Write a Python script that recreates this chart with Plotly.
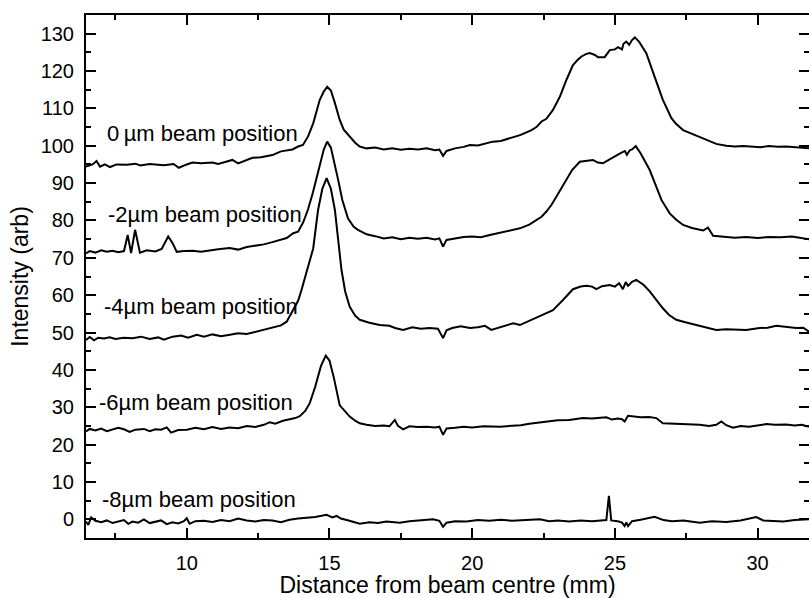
import plotly.graph_objects as go

# ---------------- data ----------------
x_0um = [6.47, 6.7, 6.84, 6.96, 7.13, 7.31, 7.54, 7.9, 8.2, 8.37, 8.7, 8.95, 9.2, 9.54, 9.72, 10.0, 10.2, 10.5,
         10.9, 11.1, 11.35, 11.6, 11.8, 12.05, 12.3, 12.6, 13.0, 13.3, 13.7, 13.9, 14.07, 14.25, 14.43, 14.66, 14.8,
         14.92, 15.05, 15.19, 15.36, 15.5, 15.71, 15.9, 16.06, 16.3, 16.6, 16.9, 17.2, 17.5, 17.8, 18.1, 18.4, 18.7,
         18.85, 18.98, 19.1, 19.4, 19.7, 19.92, 20.2, 20.45, 20.72, 21.0, 21.2, 21.42, 21.7, 22.08, 22.25, 22.43,
         22.6, 22.83, 23.07, 23.3, 23.53, 23.7, 23.83, 24.0, 24.12, 24.3, 24.41, 24.64, 24.75, 24.82, 25.0, 25.11,
         25.25, 25.3, 25.4, 25.5, 25.6, 25.7, 25.85, 26.1, 26.39, 26.68, 26.98, 27.15, 27.39, 27.7, 28.09, 28.3,
         28.55, 28.9, 29.2, 29.5, 29.83, 30.1, 30.4, 30.7, 31.0, 31.3, 31.6, 31.8]
y_0um = [94.4, 95.0, 95.9, 94.4, 95.0, 94.3, 95.0, 94.9, 95.2, 94.7, 95.1, 95.0, 94.8, 95.1, 94.1, 95.0, 95.5, 95.3,
         95.5, 95.1, 95.6, 96.2, 95.3, 96.0, 96.8, 96.9, 97.5, 98.5, 99.0, 99.8, 100.2, 102.5, 106.0, 112.3, 114.5,
         115.8, 114.8, 111.4, 106.9, 104.3, 102.4, 100.8, 99.8, 99.3, 99.5, 99.0, 99.3, 98.9, 99.2, 99.0, 99.3, 98.8,
         99.0, 97.3, 98.6, 99.3, 99.7, 100.2, 100.1, 100.6, 101.1, 101.3, 101.8, 102.4, 102.9, 104.2, 105.0, 106.5,
         107.2, 109.6, 113.1, 117.6, 121.6, 123.0, 123.9, 124.6, 124.8, 124.3, 123.7, 123.7, 125.0, 125.6, 125.8,
         126.4, 125.8, 127.3, 127.9, 127.0, 128.3, 129.0, 127.8, 124.8, 118.5, 112.3, 107.4, 105.8, 104.2, 103.2,
         102.0, 101.3, 100.5, 100.0, 99.8, 99.9, 99.8, 99.6, 99.9, 99.7, 99.8, 99.6, 99.4, 99.3]

x_m2um = [6.47, 6.6, 6.8, 7.0, 7.2, 7.4, 7.6, 7.8, 7.93, 8.05, 8.19, 8.36, 8.6, 8.9, 9.12, 9.35, 9.5, 9.65, 9.9,
          10.2, 10.5, 10.8, 11.1, 11.5, 11.8, 12.1, 12.4, 12.7, 13.0, 13.26, 13.5, 13.73, 13.9, 14.08, 14.25, 14.42,
          14.66, 14.8, 14.92, 15.05, 15.3, 15.45, 15.65, 15.85, 16.0, 16.3, 16.6, 16.9, 17.2, 17.5, 17.8, 18.1, 18.4,
          18.7, 18.85, 18.98, 19.1, 19.4, 19.7, 20.0, 20.3, 20.62, 20.9, 21.2, 21.67, 22.0, 22.2, 22.43, 22.6, 22.78,
          23.0, 23.3, 23.5, 23.77, 24.0, 24.23, 24.4, 24.58, 24.8, 25.05, 25.2, 25.35, 25.42, 25.52, 25.6, 25.73,
          25.9, 26.22, 26.45, 26.63, 26.92, 27.15, 27.39, 27.7, 28.09, 28.26, 28.44, 28.8, 29.2, 29.6, 30.0, 30.4,
          30.8, 31.2, 31.5, 31.8]
y_m2um = [71.2, 71.8, 71.4, 72.0, 71.6, 71.9, 71.5, 71.8, 76.1, 71.3, 77.5, 71.4, 72.0, 71.7, 72.4, 75.7, 74.0, 71.6,
          71.8, 71.9, 71.6, 72.0, 72.3, 72.6, 72.2, 72.9, 73.2, 73.6, 74.2, 74.8, 75.3, 76.6, 77.0, 79.5, 83.0, 87.5,
          95.0, 99.0, 101.1, 99.5, 91.0, 85.5, 80.5, 78.3, 77.5, 76.3, 75.8, 75.2, 75.5, 75.0, 75.4, 75.1, 75.4,
          74.9, 75.2, 73.0, 74.8, 75.3, 75.6, 75.7, 75.5, 76.1, 76.6, 77.0, 77.9, 78.9, 79.8, 81.0, 82.4, 84.2,
          87.0, 90.8, 93.5, 95.7, 96.0, 96.2, 95.5, 95.3, 96.3, 97.5, 98.0, 98.6, 97.6, 98.8, 99.0, 99.9,
          98.0, 93.5, 89.0, 85.5, 81.9, 80.2, 78.8, 78.0, 77.3, 78.1, 75.9, 75.7, 75.4, 75.6, 75.3, 75.6,
          75.5, 75.7, 75.3, 75.0]

x_m4um = [6.47, 6.6, 6.75, 6.9, 7.1, 7.3, 7.5, 7.8, 8.1, 8.4, 8.7, 9.0, 9.2, 9.5, 9.8, 10.05, 10.35, 10.6, 10.9,
          11.2, 11.51, 11.8, 12.1, 12.4, 12.68, 12.9, 13.1, 13.3, 13.5, 13.73, 13.9, 14.02, 14.2, 14.43, 14.6, 14.75,
          14.9, 15.05, 15.19, 15.42, 15.55, 15.71, 15.9, 16.06, 16.4, 16.76, 17.1, 17.3, 17.58, 17.9, 18.2, 18.5,
          18.8, 18.98, 19.1, 19.3, 19.6, 19.92, 20.2, 20.45, 20.67, 20.9, 21.2, 21.44, 21.67, 21.9, 22.25, 22.55,
          22.83, 23.18, 23.53, 23.8, 24.0, 24.2, 24.35, 24.55, 24.82, 25.0, 25.15, 25.28, 25.38, 25.46, 25.6, 25.75,
          26.0, 26.22, 26.45, 26.68, 26.9, 27.15, 27.5, 27.85, 28.2, 28.55, 28.9, 29.25, 29.6, 30.07, 30.35, 30.65,
          31.0, 31.35, 31.6, 31.8]
y_m4um = [48.0, 48.8, 47.9, 48.6, 48.4, 48.7, 48.3, 48.6, 48.5, 48.9, 48.3, 48.7, 48.1, 48.9, 49.2, 48.6, 49.4, 48.9,
          49.5, 49.0, 49.4, 49.8, 49.6, 50.2, 50.7, 51.2, 51.5, 51.9, 52.9, 56.0, 58.5, 61.4, 66.0, 72.5, 82.8, 88.5,
          91.3, 88.5, 82.8, 66.8, 61.0, 56.9, 54.5, 53.4, 52.6, 52.0, 51.8, 51.2, 50.7, 51.4, 51.0, 51.2,
          51.0, 48.5, 50.6, 51.2, 51.7, 51.2, 51.4, 51.8, 50.7, 51.3, 51.9, 52.5, 52.0, 52.8, 53.8, 55.0,
          56.0, 58.7, 61.6, 62.3, 62.5, 62.3, 61.6, 62.4, 62.7, 62.3, 63.2, 61.6, 63.5, 62.5, 63.6, 64.1,
          62.8, 61.0, 58.7, 56.5, 54.7, 53.4, 52.7, 52.0, 51.5, 50.7, 50.9, 50.8, 50.7, 51.2, 51.3, 51.8,
          51.6, 51.2, 51.3, 50.2]

x_m6um = [6.47, 6.6, 6.8, 7.0, 7.2, 7.4, 7.6, 7.8, 8.0, 8.2, 8.5, 8.7, 8.9, 9.1, 9.3, 9.45, 9.7, 10.0, 10.3, 10.6,
          10.9, 11.2, 11.5, 11.8, 12.1, 12.4, 12.7, 12.91, 13.1, 13.37, 13.6, 13.8, 13.96, 14.15, 14.31, 14.5, 14.7,
          14.87, 15.0, 15.15, 15.36, 15.5, 15.71, 15.9, 16.06, 16.3, 16.6, 16.9, 17.1, 17.29, 17.4, 17.58, 17.8, 18.1,
          18.4, 18.7, 18.85, 18.98, 19.1, 19.4, 19.7, 20.0, 20.4, 20.97, 21.3, 21.7, 22.0, 22.37, 22.7, 23.0, 23.4,
          23.88, 24.2, 24.5, 24.7, 24.9, 25.1, 25.25, 25.34, 25.46, 25.63, 25.9, 26.2, 26.45, 26.68, 27.0, 27.4,
          27.7, 27.97, 28.3, 28.55, 28.73, 28.9, 29.14, 29.4, 29.7, 30.0, 30.31, 30.6, 31.0, 31.3, 31.55, 31.8]
y_m6um = [23.5, 24.2, 23.8, 24.3, 23.6, 24.0, 24.5, 24.1, 23.4, 24.0, 24.2, 23.6, 24.1, 24.0, 24.6, 23.2, 23.9, 24.0,
          24.5, 24.1, 24.7, 24.2, 24.6, 24.4, 25.0, 24.7, 25.3, 26.0, 25.6, 26.4, 26.7, 27.1, 27.6, 29.0, 31.1, 35.5,
          41.0, 43.8, 42.5, 38.0, 30.5, 29.2, 27.5, 26.4, 25.7, 25.3, 25.0, 25.1, 24.9, 26.6, 25.0, 24.1, 24.9,
          24.7, 24.8, 24.6, 24.8, 22.6, 24.3, 24.5, 24.8, 24.6, 24.9, 24.8, 25.0, 25.2, 25.6, 25.9, 26.1, 26.5,
          26.6, 27.1, 27.0, 27.3, 27.3, 26.7, 27.0, 26.8, 26.2, 27.7, 27.5, 27.3, 27.4, 27.1, 25.7, 25.6, 25.3,
          25.4, 25.3, 25.0, 25.3, 26.2, 25.2, 24.5, 25.0, 24.8, 25.2, 25.5, 25.3, 25.4, 25.1, 25.3, 24.8]

x_m8um = [6.47, 6.55, 6.65, 6.8, 7.0, 7.2, 7.4, 7.6, 7.8, 7.95, 8.1, 8.3, 8.5, 8.7, 8.9, 9.1, 9.3, 9.5, 9.7, 9.9,
          10.0, 10.1, 10.3, 10.6, 10.9, 11.2, 11.5, 11.8, 12.1, 12.4, 12.7, 13.0, 13.3, 13.6, 13.9, 14.2, 14.5, 14.9,
          15.1, 15.25, 15.4, 15.7, 16.06, 16.4, 16.7, 17.0, 17.46, 17.8, 18.2, 18.63, 18.85, 18.98, 19.1, 19.4,
          19.8, 20.2, 20.6, 21.0, 21.4, 21.8, 22.37, 22.7, 23.0, 23.4, 23.8, 24.2, 24.5, 24.7, 24.79, 24.87, 25.1,
          25.25, 25.34, 25.4, 25.46, 25.6, 25.9, 26.15, 26.39, 26.7, 27.0, 27.4, 27.97, 28.4, 28.9, 29.4, 29.95,
          30.2, 30.6, 30.9, 31.3, 31.6, 31.8]
y_m8um = [-0.6, -1.5, 0.5, -0.4, -0.8, -0.3, -1.0, -0.5, -0.2, -1.2, -0.6, -0.9, 0.0, -1.0, -0.7, -0.3, -1.3, -0.8,
          -1.1, -0.5, 0.3, -1.2, -0.5, -0.4, -0.7, -0.2, -0.5, 0.2, -0.3, -0.6, -0.2, -0.3, -0.8, -0.1, 0.2, 0.4,
          0.6, 1.2, 0.5, 0.9, 0.2, -0.4, -1.2, -0.8, -1.0, -0.6, -0.9, -0.5, -0.3, 0.0, -0.4, -2.0, -0.9, -0.5,
          -0.6, -0.2, -0.4, -0.1, -0.4, -0.2, 0.0, -0.5, -0.3, -0.6, -0.3, -0.5, -0.3, -0.2, 6.3, -0.3, -0.5,
          -0.9, -1.8, -0.8, -1.8, -0.5, -0.1, 0.3, 0.7, -0.2, -0.5, -0.3, -0.9, -0.5, -0.7, -0.3, 0.6,
          -0.3, -0.5, -0.6, -0.2, 0.0, 0.0]

series = [
    (x_0um, y_0um), (x_m2um, y_m2um), (x_m4um, y_m4um), (x_m6um, y_m6um), (x_m8um, y_m8um)
]
labels = ["0\u2009\u00b5m beam position", "-2\u00b5m beam position", "-4\u00b5m beam position",
          "-6\u00b5m beam position", "-8\u00b5m beam position"]
label_x = [7.14, 7.17, 7.02, 6.84, 6.96]
label_y = [103.4, 81.5, 56.9, 31.4, 5.2]

x_range = [6.47, 31.8]
y_range = [-5, 135]

# ---------------- figure ----------------
FONT = "Liberation Sans, Arial, sans-serif"
fig = go.Figure()
for xs, ys in series:
    n = min(len(xs), len(ys))
    fig.add_trace(go.Scatter(x=xs[:n], y=ys[:n], mode="lines",
                             line=dict(color="black", width=2), showlegend=False,
                             hoverinfo="skip"))

for t, lx, ly in zip(labels, label_x, label_y):
    fig.add_annotation(x=lx, y=ly, text=t, showarrow=False, xanchor="left", yanchor="middle",
                       font=dict(family=FONT, size=22, color="black"))

axis_common = dict(showline=True, linecolor="black", linewidth=2, mirror="ticks",
                   ticks="inside", ticklen=10, tickwidth=2, tickcolor="black",
                   showgrid=False, zeroline=False, automargin=False,
                   tickfont=dict(family=FONT, size=20, color="black"))

fig.update_xaxes(range=x_range, tick0=0, dtick=5, ticklabelstandoff=6,
                 minor=dict(ticks="inside", ticklen=5, tickwidth=2, tickcolor="black", dtick=2.5, showgrid=False),
                 title=dict(text="Distance from beam centre (mm)", font=dict(family=FONT, size=23, color="black"),
                            standoff=2),
                 **axis_common)
fig.update_yaxes(range=y_range, tick0=0, dtick=10, ticklabelstandoff=6,
                 minor=dict(ticks="inside", ticklen=5, tickwidth=2, tickcolor="black", dtick=5, showgrid=False),
                 title=dict(text="Intensity (arb)", font=dict(family=FONT, size=23, color="black"), standoff=6),
                 **axis_common)

fig.update_layout(width=809, height=598, margin=dict(l=86, r=0, t=15, b=60),
                  plot_bgcolor="white", paper_bgcolor="white", hovermode=False)

fig.write_html("out.html", config={"displayModeBar": False, "staticPlot": True},
               post_script="document.body.style.margin='0';document.body.style.overflow='hidden';")
